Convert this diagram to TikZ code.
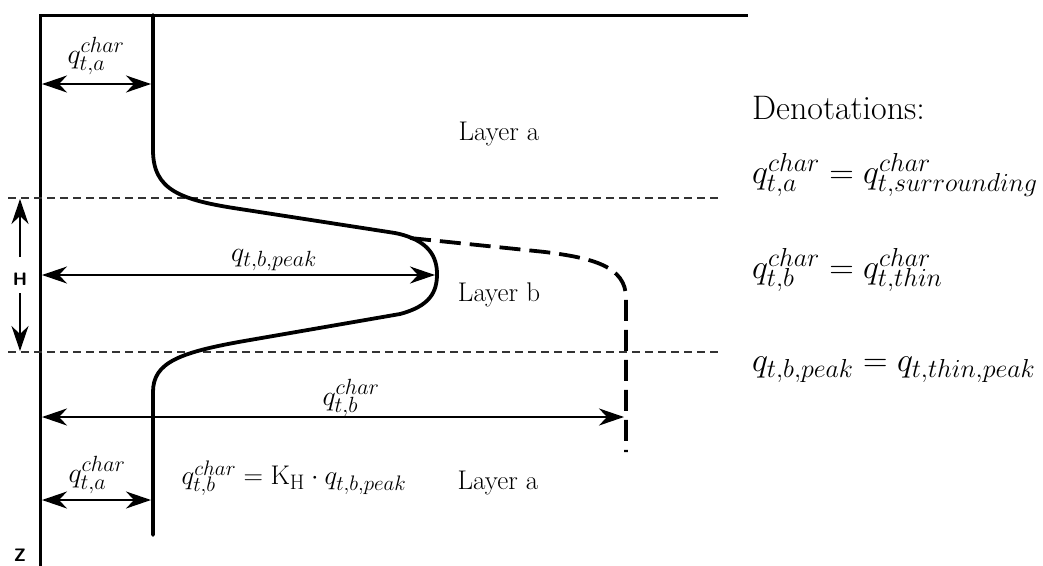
\RequirePackage{fix-cm}
\documentclass[tikz,border=0pt]{standalone}
\usetikzlibrary{arrows.meta}
\DeclareMathSizes{28}{28}{22}{16}
\DeclareMathSizes{27}{27}{21}{15}
\DeclareMathSizes{34}{34}{26}{19}
\begin{document}
\begin{tikzpicture}[x=1pt,y=-1pt,
  ax/.style={line width=3pt},
  prof/.style={line width=3.8pt, line cap=round, line join=round},
  dprof/.style={line width=3.8pt, dash pattern=on 21pt off 9pt},
  lay/.style={line width=1.1pt, dash pattern=on 8pt off 5pt, draw=black!80},
  dim/.style={line width=2pt, {Stealth[length=25pt,width=17pt,inset=8pt]}-{Stealth[length=25pt,width=17pt,inset=8pt]}},
  thindim/.style={line width=1.2pt, {Stealth[length=25pt,width=17pt,inset=8pt]}-{Stealth[length=25pt,width=17pt,inset=8pt]}},
  lbl/.style={inner sep=0pt, font=\fontsize{28}{32}\selectfont},
  txt/.style={inner sep=0pt, font=\fontsize{27}{31}\selectfont},
  rt/.style={inner sep=0pt, anchor=west, font=\fontsize{34}{40}\selectfont},
  sf/.style={inner sep=0pt, font=\fontsize{18}{21}\selectfont\sffamily\bfseries}
]
\useasboundingbox (0,0) rectangle (1043,565);
% coordinates
\coordinate (axT) at (40,15);
\coordinate (axB) at (40,566);
\coordinate (topR) at (748,15);
\coordinate (pT) at (153,15);
\coordinate (pB) at (153,535);
\coordinate (l1a) at (8,198);
\coordinate (l1b) at (722,198);
\coordinate (l2a) at (8,352);
\coordinate (l2b) at (722,352);
% axes
\draw[ax] (axB) -- (axT) -- (topR);
% layer boundaries
\draw[lay] (l1a) -- (l1b);
\draw[lay] (l2a) -- (l2b);
% dashed thin-layer profile
\coordinate (dS) at (410,238);
\coordinate (dE) at (626,452);
\draw[dprof] (dS) -- (545,252) .. controls (592,258) and (626,266) .. (626,298) -- (dE);
% solid profile
\draw[prof] (pT) -- (153,150)
  .. controls (153,190) and (180,200) .. (240,209)
  -- (395,233)
  .. controls (430,240) and (437,258) .. (437,274)
  .. controls (437,292) and (430,306) .. (400,314)
  -- (250,340)
  .. controls (180,352) and (153,362) .. (153,392)
  -- (pB);
% dimension arrows
\coordinate (a1L) at (42,84);  \coordinate (a1R) at (151,84);
\coordinate (a2L) at (42,275); \coordinate (a2R) at (435,275);
\coordinate (a3L) at (42,417); \coordinate (a3R) at (624,417);
\coordinate (a4L) at (42,500); \coordinate (a4R) at (151,500);
\draw[dim] (a1L) -- (a1R);
\draw[thindim] (a2L) -- (a2R);
\draw[dim, line width=2.6pt] (a3L) -- (a3R);
\draw[dim] (a4L) -- (a4R);
% H
\node[sf] (H) at (20,279) {H};
\coordinate (Htop) at (20,199);
\coordinate (Hbot) at (20,351);
\draw[line width=1.5pt, -{Stealth[length=25pt,width=17pt,inset=8pt]}] (20,257) -- (Htop);
\draw[line width=1.5pt, -{Stealth[length=25pt,width=17pt,inset=8pt]}] (20,293) -- (Hbot);
\node[sf] (Z) at (20,555) {Z};
% labels
\node[lbl] (qa1) at (96,56) {$q_{t,a}^{char}$};
\node[lbl] (qpk) at (274,260) {$q_{t,b,peak}$};
\node[lbl] (qb) at (351,398) {$q_{t,b}^{char}$};
\node[lbl] (qa2) at (97,475) {$q_{t,a}^{char}$};
\node[lbl, font=\fontsize{27}{32}\selectfont] (form) at (294,478) {$q_{t,b}^{char} = \mathrm{K}_{\mathrm{H}}\cdot q_{t,b,peak}$};
\node[txt] (LA1) at (499,134) {Layer a};
\node[txt] (LB) at (499,295) {Layer b};
\node[txt] (LA2) at (498,483) {Layer a};
% denotations
\node[rt] (den) at (752,108) {Denotations:};
\node[rt] (d1) at (752,175) {$q_{t,a}^{char} = q_{t,surrounding}^{char}$};
\node[rt] (d2) at (752,270) {$q_{t,b}^{char} = q_{t,thin}^{char}$};
\node[rt] (d3) at (752,370) {$q_{t,b,peak} = q_{t,thin,peak}$};
\end{tikzpicture}
\end{document}
